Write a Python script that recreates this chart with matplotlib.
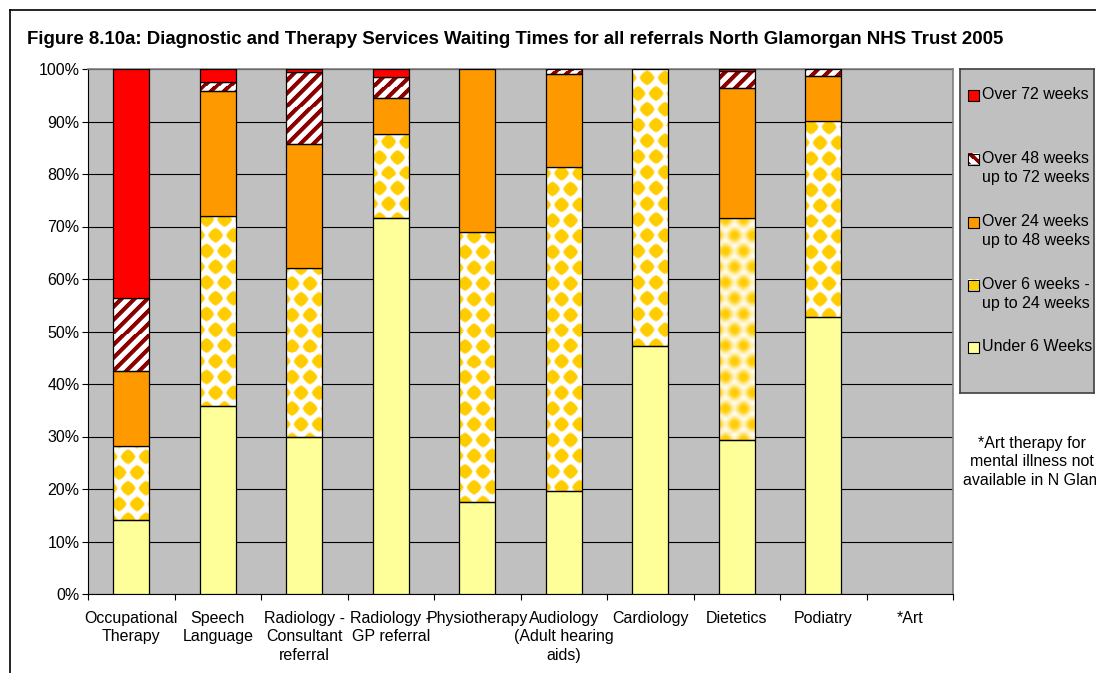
import numpy as np
import matplotlib.pyplot as plt
from matplotlib.patches import Rectangle
from matplotlib.lines import Line2D

# Waiting time bands (percent of referrals) per service
categories = ["Occupational\nTherapy", "Speech\nLanguage", "Radiology -\nConsultant\nreferral",
              "Radiology -\nGP referral", "Physiotherapy", "Audiology\n(Adult hearing\naids)",
              "Cardiology", "Dietetics", "Podiatry", "*Art"]
under_6 = [14.1, 35.8, 29.9, 71.6, 17.5, 19.6, 47.2, 29.3, 52.8, 0]
wk6_24 = [14.1, 36.2, 32.2, 16.0, 51.5, 61.7, 52.8, 42.3, 37.3, 0]
wk24_48 = [14.3, 23.8, 23.6, 6.9, 31.0, 17.7, 0, 24.8, 8.6, 0]
wk48_72 = [13.9, 1.7, 13.8, 4.0, 0, 1.0, 0, 3.2, 1.3, 0]
over_72 = [43.6, 2.5, 0.5, 1.5, 0, 0, 0, 0.4, 0, 0]
series_labels = ["Over 72 weeks", "Over 48 weeks -\nup to 72 weeks", "Over 24 weeks -\nup to 48 weeks",
                 "Over 6 weeks -\nup to 24 weeks", "Under 6 Weeks"]
title = "Figure 8.10a: Diagnostic and Therapy Services Waiting Times for all referrals North Glamorgan NHS Trust 2005"
note = "*Art therapy for\nmental illness not\navailable in N Glam"

RED = "#FF0000"
ORANGE = "#FF9900"
PALE = "#FFFF99"
GOLD = np.array([1.0, 0.8, 0.0])
DARKRED = np.array([0.55, 0.0, 0.0])
WHITE = np.array([1.0, 1.0, 1.0])
FS = 11.5

plt.rcParams['font.family'] = ['Liberation Sans', 'DejaVu Sans']

W, H = 1096, 673
fig = plt.figure(figsize=(W / 100, H / 100), dpi=100)


def texture(kind, xs, ys, ox, blur=False):
    # xs, ys: pixel centres (top-down y); ox: horizontal anchor of the pattern
    X, Y = np.meshgrid(xs, ys)
    if kind == "check":
        best = np.full(X.shape, 9.0)
        for gx, gy in [(0.0, 0.0), (9.0, 15.75)]:
            dx = np.abs(((X - ox - gx) + 9.0) % 18.0 - 9.0)
            dy = np.abs(((Y - gy) + 15.75) % 31.5 - 15.75)
            d = (dx ** 1.4 + dy ** 1.4) ** (1 / 1.4) / 7.8
            best = np.minimum(best, d)
        t = np.clip((1.05 - best) / 0.25, 0, 1)
        fg = GOLD
    else:
        s = np.sin(2 * np.pi * (X + Y) / 13.0)
        t = np.clip(0.5 + 2.2 * (s - 0.15), 0, 1)
        fg = DARKRED
    if blur:
        k = 3
        pad = np.pad(t, k, mode="edge")
        acc = np.zeros_like(t)
        for i in range(-k, k + 1):
            for j in range(-k, k + 1):
                acc += pad[k + i:k + i + t.shape[0], k + j:k + j + t.shape[1]]
        t = acc / (2 * k + 1) ** 2
    return WHITE * (1 - t[..., None]) + fg * t[..., None]


def fill_pattern(axis, x0, x1, y0, y1, kind, blur=False, z=2):
    # draw a patterned rectangle given in data coordinates
    tr = axis.transData
    (px0, py0), (px1, py1) = tr.transform([(x0, y0), (x1, y1)])
    left, right = sorted([px0, px1])
    bot, top = sorted([py0, py1])
    xs = np.arange(np.floor(left), np.ceil(right)) + 0.5
    ys = H - (np.arange(np.ceil(top), np.floor(bot), -1) - 0.5)
    if len(xs) < 1 or len(ys) < 1:
        return
    img = texture(kind, xs, ys, left + 6, blur)
    axis.imshow(img, extent=(x0, x1, min(y0, y1), max(y0, y1)) if y1 > y0 else (x0, x1, y0, y1),
                origin="upper" if y1 > y0 else "lower", aspect="auto",
                interpolation="nearest", zorder=z)


ax = fig.add_axes([88 / W, 1 - 594 / H, (953 - 88) / W, (594 - 69) / H])
ax.set_facecolor("#C0C0C0")
ax.set_xlim(-0.5, 9.5)
ax.set_ylim(0, 100)

width = 0.42
x = np.arange(len(categories))
stack = [(under_6, PALE, None), (wk6_24, None, "check"), (wk24_48, ORANGE, None),
         (wk48_72, None, "stripe"), (over_72, RED, None)]
bottom = np.zeros(len(categories))
for vals, color, kind in stack:
    vals = np.array(vals, dtype=float)
    for i in range(len(categories)):
        if vals[i] <= 0:
            continue
        x0, x1 = x[i] - width / 2, x[i] + width / 2
        y0, y1 = bottom[i], bottom[i] + vals[i]
        if kind:
            fill_pattern(ax, x0, x1, y0, y1, kind, blur=(kind == "check" and i == 7))
            ax.add_patch(Rectangle((x0, y0), width, vals[i], facecolor="none",
                                   edgecolor="black", linewidth=0.9, zorder=3))
        else:
            ax.add_patch(Rectangle((x0, y0), width, vals[i], facecolor=color,
                                   edgecolor="black", linewidth=0.9, zorder=3))
    bottom += vals

ax.set_xlim(-0.5, 9.5)
ax.set_ylim(0, 100)
ax.set_yticks(np.arange(0, 101, 10))
ax.set_yticklabels([f"{v}%" for v in range(0, 101, 10)], fontsize=FS)
ax.yaxis.grid(True, color="black", linewidth=0.8)
ax.set_axisbelow(True)
ax.tick_params(axis="y", direction="out", length=4, width=0.8, pad=2)

ax.set_xticks(x)
ax.set_xticklabels(categories, fontsize=FS)
for lbl in ax.get_xticklabels():
    lbl.set_linespacing(1.3)
ax.set_xticks(np.arange(-0.5, 10, 1), minor=True)
ax.tick_params(axis="x", which="major", length=0, pad=12)
ax.tick_params(axis="x", which="minor", direction="out", length=4, width=0.8)

for side in ["left", "bottom"]:
    ax.spines[side].set_color("black")
    ax.spines[side].set_linewidth(0.8)
for side in ["top", "right"]:
    ax.spines[side].set_color("#808080")
    ax.spines[side].set_linewidth(1.2)

# legend panel on the right
lax = fig.add_axes([960 / W, 1 - 393 / H, (1094 - 960) / W, (393 - 69) / H])
lax.set_xlim(960, 1094)
lax.set_ylim(393, 69)
lax.set_facecolor("#C0C0C0")
lax.set_xticks([])
lax.set_yticks([])
for sp in lax.spines.values():
    sp.set_color("#404040")
    sp.set_linewidth(1.2)

legend_rows = [(95, RED, None), (159, None, "stripe"), (222, ORANGE, None),
               (285, None, "check"), (347, PALE, None)]
for (yc, color, kind), label in zip(legend_rows, series_labels):
    if kind:
        fill_pattern(lax, 968, 979, yc + 5.5, yc - 5.5, kind)
        lax.add_patch(Rectangle((968, yc - 5.5), 11, 11, facecolor="none",
                                edgecolor="black", linewidth=0.8, zorder=3))
    else:
        lax.add_patch(Rectangle((968, yc - 5.5), 11, 11, facecolor=color,
                                edgecolor="black", linewidth=0.8, zorder=3))
    lax.text(982, yc - 8, label, fontsize=FS, va="top", ha="left",
             linespacing=1.3, clip_on=True)
lax.set_xlim(960, 1094)
lax.set_ylim(393, 69)

fig.text(1032 / W, 1 - 462 / H, note, fontsize=FS, ha="center", va="center", linespacing=1.3)

fig.text(27 / W, 1 - 40 / H, title, fontsize=13.4, fontweight="bold", ha="left", va="center")

# outer frame
fig.add_artist(Line2D([10 / W, 1.0], [1 - 10 / H, 1 - 10 / H], color="black", linewidth=1.2))
fig.add_artist(Line2D([10 / W, 10 / W], [1 - 10 / H, 0.0], color="black", linewidth=1.2))

fig.savefig("out.png", dpi=100)
